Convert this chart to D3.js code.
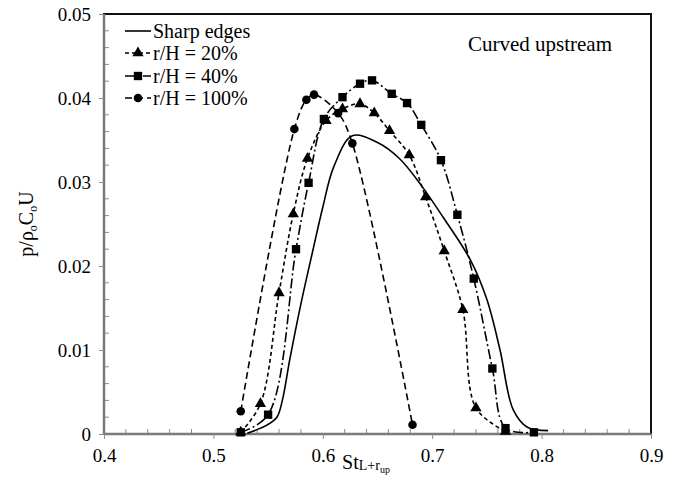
<!DOCTYPE html>
<html>
<head>
<meta charset="utf-8">
<script src="https://cdn.jsdelivr.net/npm/d3@7"></script>
<style>
  body { margin: 0; background: #fff; }
  svg { display: block; }
  svg text { font-family: "Liberation Serif", "Times New Roman", "DejaVu Serif", serif; }
</style>
</head>
<body>
<svg id="chart"></svg>
<script>
// sharp edges (line only)
const sharpX = [0.531, 0.548, 0.558, 0.563, 0.570, 0.580, 0.591, 0.600, 0.610, 0.627, 0.650, 0.670, 0.690, 0.710, 0.735, 0.750, 0.762, 0.774, 0.787, 0.806];
const sharpY = [0.0001, 0.0010, 0.0020, 0.0040, 0.0090, 0.0155, 0.0219, 0.0270, 0.0318, 0.0355, 0.0347, 0.0328, 0.0296, 0.0258, 0.0207, 0.0160, 0.0100, 0.0029, 0.0008, 0.0004];

// r/H = 20%
const tri20X = [0.525, 0.543, 0.560, 0.573, 0.586, 0.603, 0.618, 0.634, 0.647, 0.661, 0.679, 0.694, 0.711, 0.728, 0.740, 0.767];
const tri20Y = [0.0002, 0.0036, 0.0168, 0.0262, 0.0328, 0.0373, 0.0387, 0.0393, 0.0382, 0.0361, 0.0332, 0.0282, 0.0218, 0.0148, 0.0031, 0.0003];

// r/H = 40%
const sq40X = [0.525, 0.550, 0.5755, 0.587, 0.601, 0.618, 0.634, 0.645, 0.663, 0.677, 0.690, 0.708, 0.723, 0.738, 0.755, 0.767, 0.793];
const sq40Y = [0.0002, 0.0023, 0.0220, 0.0299, 0.0375, 0.0401, 0.0417, 0.0421, 0.0405, 0.0394, 0.0368, 0.0326, 0.0261, 0.0185, 0.0078, 0.0007, 0.0002];

// r/H = 100%
const c100X = [0.525, 0.574, 0.585, 0.592, 0.614, 0.627, 0.682];
const c100Y = [0.0027, 0.0363, 0.0398, 0.0404, 0.0382, 0.0346, 0.0011];

const xTicks = [0.4, 0.5, 0.6, 0.7, 0.8, 0.9];
const yTicks = [0, 0.01, 0.02, 0.03, 0.04, 0.05];

const width = 681, height = 479;
const plotL = 104, plotR = 651, plotT = 14, plotB = 434;

const svg = d3.select("#chart").attr("width", width).attr("height", height);

const x = d3.scaleLinear().domain([0.4, 0.9]).range([plotL, plotR]);
const y = d3.scaleLinear().domain([0, 0.05]).range([plotB, plotT]);

// frame
svg.append("rect")
    .attr("x", plotL).attr("y", plotT)
    .attr("width", plotR - plotL).attr("height", plotB - plotT)
    .attr("fill", "none").attr("stroke", "#111").attr("stroke-width", 2);

// minor ticks (inside)
const xMinor = d3.range(0.42, 0.9, 0.02).filter(v => Math.abs(v * 10 - Math.round(v * 10)) > 1e-6);
const yMinor = d3.range(0.002, 0.05, 0.002).filter(v => Math.abs(v * 100 - Math.round(v * 100)) > 1e-6);

svg.append("g").selectAll("line").data(xMinor).enter().append("line")
    .attr("x1", d => x(d)).attr("x2", d => x(d))
    .attr("y1", plotB).attr("y2", plotB - 5)
    .attr("stroke", "#8c8c8c").attr("stroke-width", 1);
svg.append("g").selectAll("line").data(yMinor).enter().append("line")
    .attr("x1", plotL).attr("x2", plotL + 5)
    .attr("y1", d => y(d)).attr("y2", d => y(d))
    .attr("stroke", "#8c8c8c").attr("stroke-width", 1);

// axes
const xAxis = d3.axisBottom(x).tickValues(xTicks).tickFormat(d3.format(".1f")).tickSize(5).tickPadding(10);
const yAxis = d3.axisLeft(y).tickValues(yTicks).tickFormat(d => d === 0 ? "0" : d3.format(".2f")(d)).tickSize(5).tickPadding(8);

const gx = svg.append("g").attr("transform", `translate(0,${plotB})`).call(xAxis);
const gy = svg.append("g").attr("transform", `translate(${plotL},0)`).call(yAxis);

[gx, gy].forEach(g => {
    g.attr("font-family", null);
    g.select(".domain").attr("stroke", "#7a7a7a").attr("stroke-width", 2.5);
    g.selectAll(".tick line").attr("stroke", "#8c8c8c").attr("stroke-width", 1);
    g.selectAll(".tick text")
        .attr("fill", "#000")
        .style("font-size", "19px");
});
gx.select(".domain").attr("d", `M${plotL},0H${plotR}`);
gy.select(".domain").attr("d", `M0,${plotT}V${plotB}`);

// series
const series = [
    { name: "Sharp edges", xs: sharpX, ys: sharpY, dash: null, marker: null },
    { name: "r/H = 20%", xs: tri20X, ys: tri20Y, dash: "4,3", marker: d3.symbolTriangle, size: 55 },
    { name: "r/H = 40%", xs: sq40X, ys: sq40Y, dash: "10,3,2,3", marker: d3.symbolSquare, size: 70 },
    { name: "r/H = 100%", xs: c100X, ys: c100Y, dash: "7,4", marker: d3.symbolCircle, size: 58 }
];

const line = d3.line()
    .x(d => x(d[0]))
    .y(d => y(d[1]))
    .curve(d3.curveCatmullRom.alpha(0.5));

series.forEach(s => {
    const pts = s.xs.map((v, i) => [v, s.ys[i]]);
    svg.append("path")
        .datum(pts)
        .attr("fill", "none")
        .attr("stroke", "#000")
        .attr("stroke-width", 1.6)
        .attr("stroke-dasharray", s.dash)
        .attr("d", line);
    if (s.marker) {
        svg.append("g").selectAll("path").data(pts).enter().append("path")
            .attr("transform", d => `translate(${x(d[0])},${y(d[1])})`)
            .attr("d", d3.symbol().type(s.marker).size(s.size))
            .attr("fill", "#000");
    }
});

// legend
const legendY = [31, 53, 76, 98];
series.forEach((s, i) => {
    const g = svg.append("g").attr("transform", `translate(125,${legendY[i]})`);
    g.append("line")
        .attr("x1", 0).attr("x2", 26).attr("y1", 0).attr("y2", 0)
        .attr("stroke", "#000").attr("stroke-width", 1.6)
        .attr("stroke-dasharray", s.dash);
    if (s.marker) {
        g.append("path")
            .attr("transform", "translate(13,0)")
            .attr("d", d3.symbol().type(s.marker).size(s.size))
            .attr("fill", "#000");
    }
    g.append("text")
        .attr("x", 28).attr("y", 0).attr("dy", "0.35em")
        .style("font-size", "20px")
        .text(s.name);
});

// annotation
svg.append("text")
    .attr("x", 612).attr("y", 51)
    .attr("text-anchor", "end")
    .style("font-size", "21px")
    .text("Curved upstream");

// axis titles
const yl = svg.append("text")
    .attr("transform", "translate(33,224) rotate(-90)")
    .attr("text-anchor", "middle")
    .style("font-size", "20px");
yl.append("tspan").text("p/ρ");
yl.append("tspan").attr("font-size", "12px").attr("dy", 4).text("o");
yl.append("tspan").attr("dy", -4).text("C");
yl.append("tspan").attr("font-size", "12px").attr("dy", 4).text("o");
yl.append("tspan").attr("dy", -4).text("U");

const xl = svg.append("text")
    .attr("x", 366).attr("y", 469)
    .attr("text-anchor", "middle")
    .style("font-size", "20px");
xl.append("tspan").text("St");
xl.append("tspan").attr("font-size", "14px").attr("dy", 1).text("L+r");
xl.append("tspan").attr("font-size", "10px").attr("dy", 3).text("up");
</script>
</body>
</html>
